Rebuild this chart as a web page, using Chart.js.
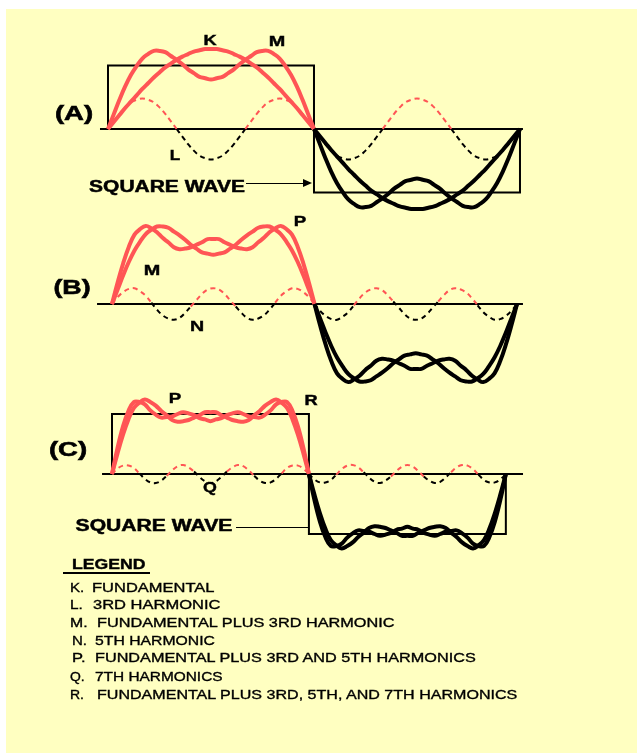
<!DOCTYPE html>
<html><head><meta charset="utf-8">
<script src="https://cdn.jsdelivr.net/npm/chart.js@4.4.1/dist/chart.umd.min.js"></script>
<style>
html,body{margin:0;padding:0;background:#fff;}
#page{position:relative;width:637px;height:753px;overflow:hidden;background:#fff;}
#panel{position:absolute;left:6px;top:9px;right:0;bottom:0;background:#FFFFC1;}
canvas{position:absolute;}
.t{position:absolute;white-space:nowrap;font-family:"Liberation Sans",Arial,sans-serif;color:#000;line-height:1;}
.ln{position:absolute;background:#000;}
</style></head><body>
<div id="page"><div id="panel"></div></div>
<script>
// ---- x positions in degrees (one full cycle) ----
const degrees = [0,5,10,15,20,25,30,35,40,45,50,55,60,65,70,75,80,85,90,95,100,105,110,115,120,125,130,135,140,145,150,155,160,165,170,175,180,
185,190,195,200,205,210,215,220,225,230,235,240,245,250,255,260,265,270,275,280,285,290,295,300,305,310,315,320,325,330,335,340,345,350,355,360];

// K. fundamental
const fundamental = [0,.11,.22,.33,.43,.53,.63,.72,.81,.89,.97,1.03,1.09,1.14,1.18,1.22,1.24,1.26,1.26,1.26,1.24,1.22,1.18,1.14,1.09,1.03,.97,.89,.81,.72,.63,.53,.43,.33,.22,.11,0,
-.11,-.22,-.33,-.43,-.53,-.63,-.72,-.81,-.89,-.97,-1.03,-1.09,-1.14,-1.18,-1.22,-1.24,-1.26,-1.26,-1.26,-1.24,-1.22,-1.18,-1.14,-1.09,-1.03,-.97,-.89,-.81,-.72,-.63,-.53,-.43,-.33,-.22,-.11,0];
// L. 3rd harmonic
const harmonic3 = [0,.12,.24,.34,.42,.46,.48,.46,.42,.34,.24,.12,0,-.12,-.24,-.34,-.42,-.46,-.48,-.46,-.42,-.34,-.24,-.12,0,.12,.24,.34,.42,.46,.48,.46,.42,.34,.24,.12,0,
-.12,-.24,-.34,-.42,-.46,-.48,-.46,-.42,-.34,-.24,-.12,0,.12,.24,.34,.42,.46,.48,.46,.42,.34,.24,.12,0,-.12,-.24,-.34,-.42,-.46,-.48,-.46,-.42,-.34,-.24,-.12,0];
// M. fundamental plus 3rd
const sum13 = [0,.23,.46,.67,.85,.99,1.11,1.18,1.23,1.23,1.21,1.15,1.09,1.02,.94,.88,.82,.80,.78,.80,.82,.88,.94,1.02,1.09,1.15,1.21,1.23,1.23,1.18,1.11,.99,.85,.67,.46,.23,0,
-.23,-.46,-.67,-.85,-.99,-1.11,-1.18,-1.23,-1.23,-1.21,-1.15,-1.09,-1.02,-.94,-.88,-.82,-.80,-.78,-.80,-.82,-.88,-.94,-1.02,-1.09,-1.15,-1.21,-1.23,-1.23,-1.18,-1.11,-.99,-.85,-.67,-.46,-.23,0];
// N. 5th harmonic
const harmonic5 = [0,.11,.19,.24,.25,.20,.13,.02,-.09,-.18,-.23,-.25,-.22,-.14,-.04,.06,.16,.23,.25,.23,.16,.06,-.04,-.14,-.22,-.25,-.23,-.18,-.09,.02,.13,.20,.25,.24,.19,.11,0,
-.11,-.19,-.24,-.25,-.20,-.13,-.02,.09,.18,.23,.25,.22,.14,.04,-.06,-.16,-.23,-.25,-.23,-.16,-.06,.04,.14,.22,.25,.23,.18,.09,-.02,-.13,-.20,-.25,-.24,-.19,-.11,0];
// P. fundamental plus 3rd and 5th
const sum135 = [0,.34,.65,.91,1.10,1.19,1.24,1.20,1.14,1.05,.98,.90,.87,.88,.90,.94,.98,1.03,1.03,1.03,.98,.94,.90,.88,.87,.90,.98,1.05,1.14,1.20,1.24,1.19,1.10,.91,.65,.34,0,
-.34,-.65,-.91,-1.10,-1.19,-1.24,-1.20,-1.14,-1.05,-.98,-.90,-.87,-.88,-.90,-.94,-.98,-1.03,-1.03,-1.03,-.98,-.94,-.90,-.88,-.87,-.90,-.98,-1.05,-1.14,-1.20,-1.24,-1.19,-1.10,-.91,-.65,-.34,0];
// Q. 7th harmonic
const harmonic7 = [0,.09,.14,.14,.10,.01,-.08,-.14,-.15,-.11,-.03,.06,.13,.15,.11,.04,-.05,-.12,-.15,-.12,-.05,.04,.11,.15,.13,.06,-.03,-.11,-.15,-.14,-.08,.01,.10,.14,.14,.09,0,
-.09,-.14,-.14,-.10,-.01,.08,.14,.15,.11,.03,-.06,-.13,-.15,-.11,-.04,.05,.12,.15,.12,.05,-.04,-.11,-.15,-.13,-.06,.03,.11,.15,.14,.08,-.01,-.10,-.14,-.14,-.09,0];
// R. fundamental plus 3rd, 5th and 7th
const sum1357 = [0,.43,.79,1.05,1.20,1.20,1.16,1.06,.99,.94,.95,.96,1.00,1.03,1.01,.98,.93,.91,.88,.91,.93,.98,1.01,1.03,1.00,.96,.95,.94,.99,1.06,1.16,1.20,1.20,1.05,.79,.43,0,
-.43,-.79,-1.05,-1.20,-1.20,-1.16,-1.06,-.99,-.94,-.95,-.96,-1.00,-1.03,-1.01,-.98,-.93,-.91,-.88,-.91,-.93,-.98,-1.01,-1.03,-1.00,-.96,-.95,-.94,-.99,-1.06,-1.16,-1.20,-1.20,-1.05,-.79,-.43,0];
// square wave outline
const squareX = [0,0,180,180,360,360];
const squareY = [0,1,1,-1,-1,0];

// legend
const legendKeys = ['K.','L.','M.','N.','P.','Q.','R.'];
const legendTexts = ['FUNDAMENTAL','3RD HARMONIC','FUNDAMENTAL PLUS 3RD HARMONIC','5TH HARMONIC',
  'FUNDAMENTAL PLUS 3RD AND 5TH HARMONICS','7TH HARMONICS','FUNDAMENTAL PLUS 3RD, 5TH, AND 7TH HARMONICS'];

const RED = '#FF5555', BLACK = '#000000';
const page = document.getElementById('page');

function pts(xs, ys){ return ys.map((v,i)=>({x:xs[i], y:v})); }
const signColor = c => (c.p0.parsed.y + c.p1.parsed.y) >= 0 ? RED : BLACK;

const panels = [
  {left:80, top:18, width:462, height:225, originX:108, pxPerDeg:1.1444, axisY:129, pxPerUnit:63.5, axisFrom:-7, axisTo:362.6,
   square:true, solid:[fundamental, sum13], dashed:[harmonic3]},
  {left:80, top:200, width:462, height:200, originX:112, pxPerDeg:1.125, axisY:304, pxPerUnit:63, axisFrom:-13.3, axisTo:365.3,
   square:false, solid:[sum13, sum135], dashed:[harmonic5]},
  {left:80, top:375, width:462, height:195, originX:112, pxPerDeg:1.094, axisY:474, pxPerUnit:60, axisFrom:-9.1, axisTo:375.7,
   square:true, solid:[sum135, sum1357], dashed:[harmonic7]}
];

panels.forEach(p=>{
  const cv = document.createElement('canvas');
  cv.width = p.width; cv.height = p.height;
  cv.style.left = p.left+'px'; cv.style.top = p.top+'px';
  page.appendChild(cv);
  const ds = [];
  p.solid.forEach(arr=>ds.push({data:pts(degrees,arr), borderWidth:4, tension:0.4, borderColor:RED,
    segment:{borderColor:signColor}, pointRadius:0, fill:false, clip:false}));
  p.dashed.forEach(arr=>ds.push({data:pts(degrees,arr), borderWidth:2, tension:0.4, borderColor:RED, borderDash:[5,4],
    segment:{borderColor:signColor}, pointRadius:0, fill:false, clip:false}));
  if(p.square) ds.push({data:pts(squareX,squareY), borderWidth:2, tension:0, borderColor:BLACK, pointRadius:0, fill:false, clip:false});
  const zeroAxis = {
    id:'zeroAxis',
    beforeDatasetsDraw(chart){
      const {ctx, scales:{x,y}} = chart;
      const yy = y.getPixelForValue(0);
      ctx.save(); ctx.strokeStyle = BLACK; ctx.lineWidth = 2;
      ctx.beginPath(); ctx.moveTo(x.getPixelForValue(p.axisFrom), yy); ctx.lineTo(x.getPixelForValue(p.axisTo), yy); ctx.stroke();
      ctx.restore();
    }
  };
  new Chart(cv, {
    type:'line',
    data:{datasets:ds},
    options:{
      responsive:false, animation:false, devicePixelRatio:1, events:[],
      layout:{padding:0},
      plugins:{legend:{display:false}, tooltip:{enabled:false}},
      scales:{
        x:{type:'linear', display:false, min:(p.left-p.originX)/p.pxPerDeg, max:(p.left+p.width-p.originX)/p.pxPerDeg},
        y:{type:'linear', display:false, min:-(p.top+p.height-p.axisY)/p.pxPerUnit, max:(p.axisY-p.top)/p.pxPerUnit}
      }
    },
    plugins:[zeroAxis]
  });
});

function addText(t, x, y, size, weight, w, anchor, stroke){
  const el = document.createElement('div');
  el.className = 't'; el.textContent = t;
  el.style.fontSize = size+'px'; el.style.fontWeight = weight;
  if(stroke) el.style.webkitTextStroke = stroke+'px #000';
  page.appendChild(el);
  const nat = el.offsetWidth;
  const s = w ? w/nat : 1;
  el.style.left = x+'px'; el.style.top = y+'px';
  if(anchor==='left'){ el.style.transformOrigin='0 50%'; el.style.transform='translateY(-50%) scaleX('+s+')'; }
  else { el.style.transform='translate(-50%,-50%) scaleX('+s+')'; }
}
function addLine(x,y,w,h){
  const d = document.createElement('div'); d.className='ln';
  d.style.left=x+'px'; d.style.top=y+'px'; d.style.width=w+'px'; d.style.height=h+'px';
  page.appendChild(d);
}

// panel labels
addText('(A)', 74, 112, 21, 'bold', 38, null, 0.6);
addText('K', 210, 40, 14, 'bold', 13, null, 0.4);
addText('M', 277, 41, 14, 'bold', 17, null, 0.4);
addText('L', 175, 155, 14, 'bold', 11, null, 0.4);
addText('SQUARE WAVE', 167, 187, 16, 'bold', 156, null, 0.5);
addLine(246, 182.5, 58, 1.5);
{ const a = document.createElement('div'); a.style.cssText='position:absolute;left:303px;top:179px;width:0;height:0;border-left:9px solid #000;border-top:4px solid transparent;border-bottom:4px solid transparent;'; page.appendChild(a); }

addText('(B)', 72, 286, 21, 'bold', 37, null, 0.6);
addText('M', 152, 270, 14, 'bold', 17, null, 0.4);
addText('N', 197, 326, 14, 'bold', 14, null, 0.4);
addText('P', 300, 221, 14, 'bold', 12, null, 0.4);

addText('(C)', 68, 448, 21, 'bold', 38, null, 0.6);
addText('P', 175, 398, 14, 'bold', 12, null, 0.4);
addText('R', 311, 400, 14, 'bold', 13, null, 0.4);
addText('Q', 210, 487, 14, 'bold', 14, null, 0.4);
addText('SQUARE WAVE', 154, 526, 16, 'bold', 157, null, 0.5);
addLine(236, 526.5, 72, 1.5);

// legend
addText('LEGEND', 72, 564, 14, 'bold', 73, 'left', 0.4);
addLine(63, 572, 87, 2);
const keyX = [70,70,70,72,72,70,70];
const keyW = [14,13,17,15,14,15,14];
const txtX = [92,93,97,95,95,95,97];
const txtW = [123,127,298,120,381,128,420];
const rowY = [587,604,622,640,657,676,694];
legendKeys.forEach((k,i)=>{
  addText(k, keyX[i], rowY[i], 13, 'normal', keyW[i], 'left', 0.35);
  addText(legendTexts[i], txtX[i], rowY[i], 13, 'normal', txtW[i], 'left', 0.35);
});
</script>
</body></html>
